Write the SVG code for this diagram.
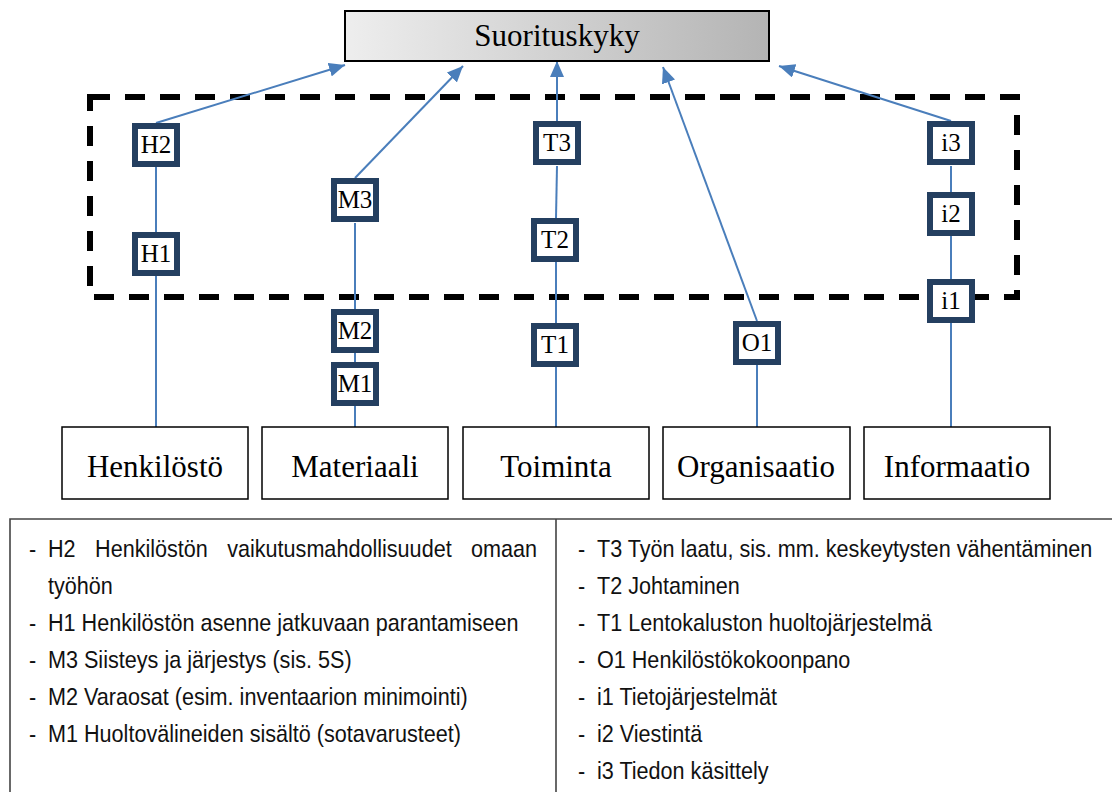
<svg xmlns="http://www.w3.org/2000/svg" width="1113" height="792" viewBox="0 0 1113 792">
  <defs>
    <linearGradient id="topFill" x1="0" y1="0" x2="1" y2="0">
      <stop offset="0" stop-color="#eeeeee"/>
      <stop offset="1" stop-color="#b4b4b4"/>
    </linearGradient>
    <marker id="arrow" markerUnits="userSpaceOnUse" markerWidth="18" markerHeight="14" refX="16" refY="7" orient="auto">
      <path d="M0,0 L16,7 L0,14 z" fill="#4a7ebb"/>
    </marker>
    <style>
      .serif { font-family: "Liberation Serif", "Times New Roman", serif; fill: #000; }
      .sans { font-family: "Liberation Sans", Arial, sans-serif; font-size: 24px; fill: #111; }
      .factor rect { fill: #fff; stroke: #243f60; stroke-width: 6; }
      .factor text { font-size: 25px; text-anchor: middle; }
      .area rect { fill: #fff; stroke: #000; stroke-width: 1.5; }
      .area text { font-size: 31px; text-anchor: middle; }
      .link { stroke: #4a7ebb; stroke-width: 2; fill: none; }
      .arrowed { marker-end: url(#arrow); }
    </style>
  </defs>

  <rect width="1113" height="792" fill="#fff"/>

  <!-- dashed boundary around the upper-level factors -->
  <rect id="boundary" x="90" y="97" width="927" height="200" fill="none" stroke="#000" stroke-width="6" stroke-dasharray="20 15"/>

  <!-- connectors -->
  <g id="connectors">
    <line class="link arrowed" x1="156" y1="123" x2="345" y2="65"/>
    <line class="link arrowed" x1="355" y1="178" x2="463" y2="66"/>
    <line class="link arrowed" x1="557" y1="121" x2="557" y2="61"/>
    <line class="link arrowed" x1="757" y1="321" x2="663" y2="67"/>
    <line class="link arrowed" x1="951" y1="121" x2="779" y2="66"/>

    <line class="link" x1="156" y1="167" x2="156" y2="232"/>
    <line class="link" x1="156" y1="276" x2="156" y2="427"/>

    <line class="link" x1="355" y1="223" x2="355" y2="309"/>
    <line class="link" x1="355" y1="353" x2="355" y2="362"/>
    <line class="link" x1="355" y1="406" x2="355" y2="427"/>

    <line class="link" x1="557" y1="166" x2="556" y2="218"/>
    <line class="link" x1="556" y1="262" x2="556" y2="323"/>
    <line class="link" x1="556" y1="367" x2="556" y2="427"/>

    <line class="link" x1="757" y1="365" x2="757" y2="427"/>

    <line class="link" x1="951" y1="166" x2="951" y2="192"/>
    <line class="link" x1="951" y1="236" x2="951" y2="279"/>
    <line class="link" x1="951" y1="323" x2="951" y2="427"/>
  </g>

  <!-- top node -->
  <g id="suorituskyky">
    <rect x="345" y="11" width="424" height="50" fill="url(#topFill)" stroke="#000" stroke-width="2"/>
    <text class="serif" x="557" y="46" font-size="31" text-anchor="middle">Suorituskyky</text>
  </g>

  <!-- factor nodes -->
  <g id="H2" class="factor serif"><rect x="135" y="126" width="42" height="38"/><text x="156" y="153">H2</text></g>
  <g id="H1" class="factor serif"><rect x="135" y="235" width="42" height="38"/><text x="156" y="262">H1</text></g>
  <g id="M3" class="factor serif"><rect x="334" y="181" width="42" height="38"/><text x="355" y="208">M3</text></g>
  <g id="M2" class="factor serif"><rect x="334" y="312" width="42" height="38"/><text x="355" y="339">M2</text></g>
  <g id="M1" class="factor serif"><rect x="334" y="365" width="42" height="38"/><text x="355" y="392">M1</text></g>
  <g id="T3" class="factor serif"><rect x="536" y="124" width="42" height="38"/><text x="557" y="151">T3</text></g>
  <g id="T2" class="factor serif"><rect x="534" y="221" width="42" height="38"/><text x="555" y="248">T2</text></g>
  <g id="T1" class="factor serif"><rect x="534" y="326" width="42" height="38"/><text x="555" y="353">T1</text></g>
  <g id="O1" class="factor serif"><rect x="736" y="324" width="42" height="38"/><text x="757" y="351">O1</text></g>
  <g id="i3" class="factor serif"><rect x="930" y="124" width="42" height="38"/><text x="951" y="151">i3</text></g>
  <g id="i2" class="factor serif"><rect x="930" y="195" width="42" height="38"/><text x="951" y="222">i2</text></g>
  <g id="i1" class="factor serif"><rect x="930" y="282" width="42" height="38"/><text x="951" y="309">i1</text></g>

  <!-- area nodes -->
  <g id="henkilosto" class="area serif"><rect x="62" y="427" width="186" height="72"/><text x="155" y="477">Henkilöstö</text></g>
  <g id="materiaali" class="area serif"><rect x="262" y="427" width="186" height="72"/><text x="355" y="477">Materiaali</text></g>
  <g id="toiminta" class="area serif"><rect x="463" y="427" width="186" height="72"/><text x="556" y="477">Toiminta</text></g>
  <g id="organisaatio" class="area serif"><rect x="663" y="427" width="187" height="72"/><text x="756" y="477">Organisaatio</text></g>
  <g id="informaatio" class="area serif"><rect x="864" y="427" width="186" height="72"/><text x="957" y="477">Informaatio</text></g>

  <!-- legend table -->
  <g id="legend">
    <path d="M10,800 V519 H1112 M556,519 V800" fill="none" stroke="#444" stroke-width="1.6"/>
    <!-- narrow lettering: horizontal scale 0.9, x values given in scaled units -->
    <g class="sans" transform="scale(0.9 1)">
      <text x="32.2" y="557">-</text>
      <text x="53.3" y="557">H2</text>
      <text x="105.6" y="557">Henkilöstön</text>
      <text x="252.4" y="557">vaikutusmahdollisuudet</text>
      <text x="596.7" y="557" text-anchor="end">omaan</text>
      <text x="53.3" y="594">työhön</text>
      <text x="32.2" y="631">-</text><text x="53.3" y="631">H1 Henkilöstön asenne jatkuvaan parantamiseen</text>
      <text x="32.2" y="668">-</text><text x="53.3" y="668">M3 Siisteys ja järjestys (sis. 5S)</text>
      <text x="32.2" y="705">-</text><text x="53.3" y="705">M2 Varaosat (esim. inventaarion minimointi)</text>
      <text x="32.2" y="742">-</text><text x="53.3" y="742">M1 Huoltovälineiden sisältö (sotavarusteet)</text>

      <text x="642.2" y="557">-</text><text x="663.3" y="557">T3 Työn laatu, sis. mm. keskeytysten vähentäminen</text>
      <text x="642.2" y="594">-</text><text x="663.3" y="594">T2 Johtaminen</text>
      <text x="642.2" y="631">-</text><text x="663.3" y="631">T1 Lentokaluston huoltojärjestelmä</text>
      <text x="642.2" y="668">-</text><text x="663.3" y="668">O1 Henkilöstökokoonpano</text>
      <text x="642.2" y="705">-</text><text x="663.3" y="705">i1 Tietojärjestelmät</text>
      <text x="642.2" y="742">-</text><text x="663.3" y="742">i2 Viestintä</text>
      <text x="642.2" y="779">-</text><text x="663.3" y="779">i3 Tiedon käsittely</text>
    </g>
  </g>
</svg>
